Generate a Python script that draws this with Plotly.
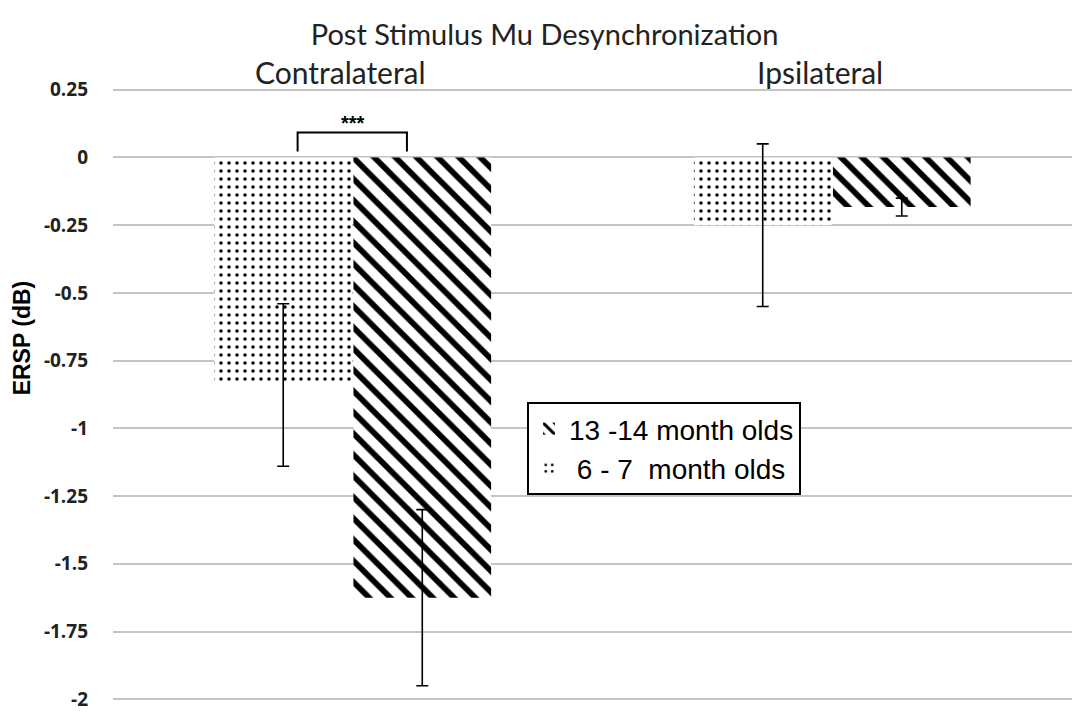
import plotly.graph_objects as go

# Regions (categories) and group means / SE
regions = ["Contralateral", "Ipsilateral"]
young_label = "\u00a06 - 7\u00a0\u00a0month olds"
old_label = "13 -14 month olds"
young_ersp = [-0.84, -0.25]
young_err = [0.30, 0.30]
old_ersp = [-1.625, -0.183]
old_err = [0.325, 0.033]
y_ticks = [0.25, 0, -0.25, -0.5, -0.75, -1, -1.25, -1.5, -1.75, -2]
y_tick_text = ["0.25", "0", "-0.25", "-0.5", "-0.75", "-1", "-1.25", "-1.5", "-1.75", "-2"]

fig = go.Figure()

fig.add_trace(go.Bar(
    name=young_label, x=regions, y=young_ersp,
    marker=dict(color="white", line=dict(width=0),
                pattern=dict(shape=".", fgcolor="black", bgcolor="white",
                             fgopacity=1, size=8, solidity=0.15)),
    error_y=dict(type="data", array=young_err, visible=True,
                 color="black", thickness=1.6, width=6),
))
fig.add_trace(go.Bar(
    name=old_label, x=regions, y=old_ersp,
    marker=dict(color="white", line=dict(width=0),
                pattern=dict(shape="\\", fgcolor="black", bgcolor="white",
                             fgopacity=1, size=15, solidity=0.38)),
    error_y=dict(type="data", array=old_err, visible=True,
                 color="black", thickness=1.6, width=6),
))

# region names above each group
for r in regions:
    fig.add_annotation(x=r, y=1 - (72 - 87) / 619, xref="x", yref="paper",
                       text=r, showarrow=False, xshift=-12,
                       xanchor="center", yanchor="middle",
                       font=dict(family="Lato", size=30, color="#222222"))

# significance bracket between contralateral bars
fig.add_shape(type="path", xref="x", yref="y",
              path="M -0.115 0.022 L -0.115 0.092 L 0.113 0.092 L 0.113 0.022",
              line=dict(color="black", width=2))
fig.add_annotation(x=0, y=0.092, xref="x", yref="y", text="<b>***</b>",
                   showarrow=False, yanchor="bottom", yshift=-3,
                   font=dict(family="Liberation Sans", size=20, color="black"))

# y-axis title (paper coords are relative to the plot area)
fig.add_annotation(x=(22 - 113) / 959, y=1 - (340 - 87) / 619,
                   xref="paper", yref="paper",
                   text="<b>ERSP (dB)</b>", showarrow=False, textangle=-90,
                   xanchor="center", yanchor="middle",
                   font=dict(family="Liberation Sans", size=23, color="black"))

fig.update_layout(
    width=1072, height=712,
    margin=dict(l=113, r=0, t=87, b=6),
    paper_bgcolor="white", plot_bgcolor="white",
    barmode="group", bargap=0.42, bargroupgap=0.01,
    title=dict(text="Post Stimulus Mu Desynchronization", x=0.508, xanchor="center",
               y=1 - 35 / 712, yanchor="middle",
               font=dict(family="Lato", size=29, color="#222222")),
    showlegend=True,
    legend=dict(x=(527 - 113) / 959, y=1 - (404 - 87) / 619,
                xanchor="left", yanchor="top",
                traceorder="reversed", bgcolor="white",
                bordercolor="black", borderwidth=2,
                font=dict(family="Liberation Sans", size=28, color="black"),
                itemwidth=30, tracegroupgap=0),
    xaxis=dict(showticklabels=False, showgrid=False, showline=False,
               zeroline=False, ticks=""),
    yaxis=dict(range=[-2.01, 0.26], tickvals=y_ticks,
               ticktext=[f"<b>{t}</b>" for t in y_tick_text],
               showgrid=True, gridcolor="#c4c4c4", gridwidth=1.5,
               zeroline=False, showline=False, ticks="",
               ticklabelstandoff=24, ticklabeloverflow="allow",
               tickfont=dict(family="Open Sans", size=19, color="#222222")),
)

fig.write_html("out.html")
